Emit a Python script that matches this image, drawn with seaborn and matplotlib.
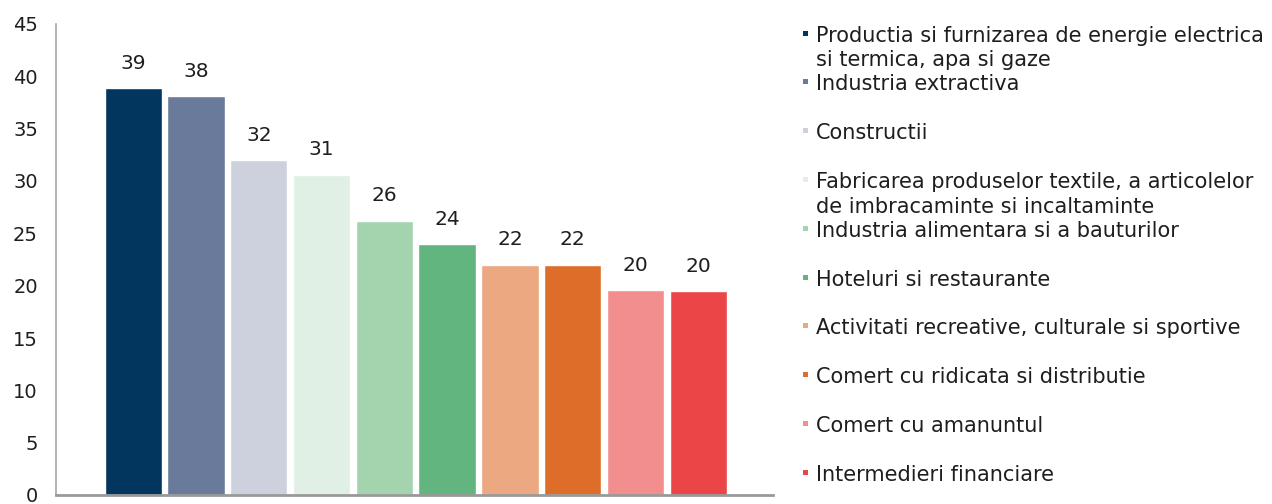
import matplotlib
matplotlib.use("Agg")
import matplotlib.pyplot as plt
import seaborn as sns
import pandas as pd

# Sector names, values and colours
categories = [
    "Productia si furnizarea de energie electrica\nsi termica, apa si gaze",
    "Industria extractiva",
    "Constructii",
    "Fabricarea produselor textile, a articolelor\nde imbracaminte si incaltaminte",
    "Industria alimentara si a bauturilor",
    "Hoteluri si restaurante",
    "Activitati recreative, culturale si sportive",
    "Comert cu ridicata si distributie",
    "Comert cu amanuntul",
    "Intermedieri financiare",
]
values = [38.9, 38.1, 32.0, 30.6, 26.2, 24.0, 22.0, 22.0, 19.6, 19.5]
colors = [
    "#02365E", "#6A7A9A", "#CDD1DE", "#E0F0E4", "#A3D4AE",
    "#62B57E", "#ECA881", "#DF6D2A", "#F28E8E", "#EC4548",
]
y_ticks = [0, 5, 10, 15, 20, 25, 30, 35, 40, 45]

sns.set_style("white")
plt.rcParams["font.family"] = ["DejaVu Sans"]
text_color = "#1E1E1E"

df = pd.DataFrame({"sector": categories, "value": values})

W, H = 1272, 504
fig = plt.figure(figsize=(W / 100, H / 100), dpi=100)
ax = fig.add_axes([56 / W, 9 / H, (773 - 56) / W, (495 - 24) / H])

sns.barplot(
    data=df, x="sector", y="value", hue="sector", palette=colors,
    order=categories, hue_order=categories, dodge=False, legend=False,
    width=0.913, saturation=1, ax=ax,
)

for container in ax.containers:
    ax.bar_label(container, fmt="{:.0f}", padding=11, fontsize=14.5, color=text_color)

ax.set_xlim(-1.23, 10.19)
ax.set_ylim(0, 45)
ax.set_yticks(y_ticks)
ax.set_xticks([])
ax.set_xlabel("")
ax.set_ylabel("")
ax.tick_params(axis="y", length=0, pad=13, labelsize=14, labelcolor=text_color)

for side in ("top", "right"):
    ax.spines[side].set_visible(False)
ax.spines["left"].set_color("#A6A6A6")
ax.spines["left"].set_linewidth(1.2)
ax.spines["bottom"].set_color("#999999")
ax.spines["bottom"].set_linewidth(2)

# Legend: one slot per sector, square marker beside the first line
slot_top = 33
slot_step = 48.8
line_gap = 25
for i, (name, col) in enumerate(zip(categories, colors)):
    yc = slot_top + i * slot_step
    fig.patches.append(plt.Rectangle(
        (803 / W, 1 - (yc + 2.5) / H), 5 / W, 5 / H,
        transform=fig.transFigure, facecolor=col, edgecolor="none"))
    for j, line in enumerate(name.split("\n")):
        fig.text(816 / W, 1 - (yc + 8.5 + j * line_gap) / H, line,
                 ha="left", va="baseline", fontsize=15, color=text_color)

fig.savefig("out.png", dpi=100)
